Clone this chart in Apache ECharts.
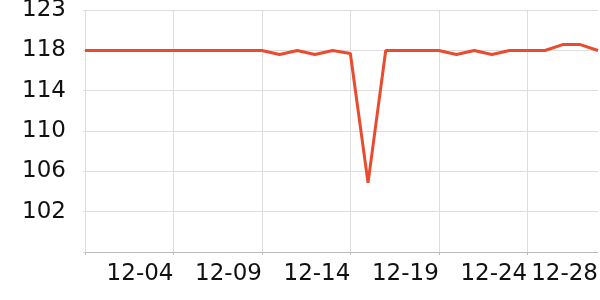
<!DOCTYPE html>
<html>
<head>
<meta charset="utf-8">
<script src="https://cdn.jsdelivr.net/npm/echarts@6/dist/echarts.min.js"></script>
<style>html,body{margin:0;padding:0;background:#fff}#c{width:600px;height:300px}</style>
</head>
<body>
<div id="c"></div>
<script>
var categories = ['11-29','11-30','12-01','12-02','12-03','12-04','12-05','12-06','12-07','12-08',
  '12-09','12-10','12-11','12-12','12-13','12-14','12-15','12-16','12-17','12-18',
  '12-19','12-20','12-21','12-22','12-23','12-24','12-25','12-26','12-27','12-28'];
var values = [118.4,118.4,118.4,118.4,118.4,118.4,118.4,118.4,118.4,118.4,
  118.4,118.0,118.4,118.0,118.4,118.1,105.0,118.4,118.4,118.4,
  118.4,118.0,118.4,118.0,118.4,118.4,118.4,119.0,119.0,118.4];
var yTickValues = [98, 102.08, 106.17, 110.25, 114.33, 118.42, 122.5];
var yTickLabels = ['', '102', '106', '110', '114', '118', '123'];

var chart = echarts.init(document.getElementById('c'), null, {renderer: 'canvas'});
var font = 'DejaVu Sans';
chart.setOption({
  animation: false,
  grid: {left: 85, right: 2, top: 10, bottom: 48, containLabel: false, outerBoundsMode: 'none'},
  xAxis: {
    type: 'category',
    data: categories,
    boundaryGap: false,
    axisLine: {show: true, lineStyle: {color: '#bbb', width: 1}},
    axisTick: {show: true, interval: 4, length: 3, lineStyle: {color: '#bbb'}},
    splitLine: {show: true, interval: 4, lineStyle: {color: '#ddd', width: 1}},
    axisLabel: {
      interval: function (i) { return (i % 5 === 0 && i > 0) || i === categories.length - 1; },
      align: 'right',
      margin: 11,
      fontFamily: font, fontSize: 23, color: '#111'
    }
  },
  yAxis: {
    type: 'value',
    min: yTickValues[0],
    max: yTickValues[yTickValues.length - 1],
    interval: (yTickValues[yTickValues.length - 1] - yTickValues[0]) / 6,
    axisLine: {show: false},
    axisTick: {show: true, length: 2, lineStyle: {color: '#ddd'}},
    splitLine: {show: true, lineStyle: {color: '#ddd', width: 1}},
    axisLabel: {
      margin: 19,
      fontFamily: font, fontSize: 23, color: '#111',
      formatter: function (v) {
        for (var k = 0; k < yTickValues.length; k++) {
          if (Math.abs(yTickValues[k] - v) < 0.02) return yTickLabels[k];
        }
        return '';
      }
    }
  },
  series: [{
    type: 'line',
    data: values,
    showSymbol: false,
    symbol: 'none',
    lineStyle: {color: '#ea4a2e', width: 3},
    itemStyle: {color: '#ea4a2e'}
  }]
});
</script>
</body>
</html>
